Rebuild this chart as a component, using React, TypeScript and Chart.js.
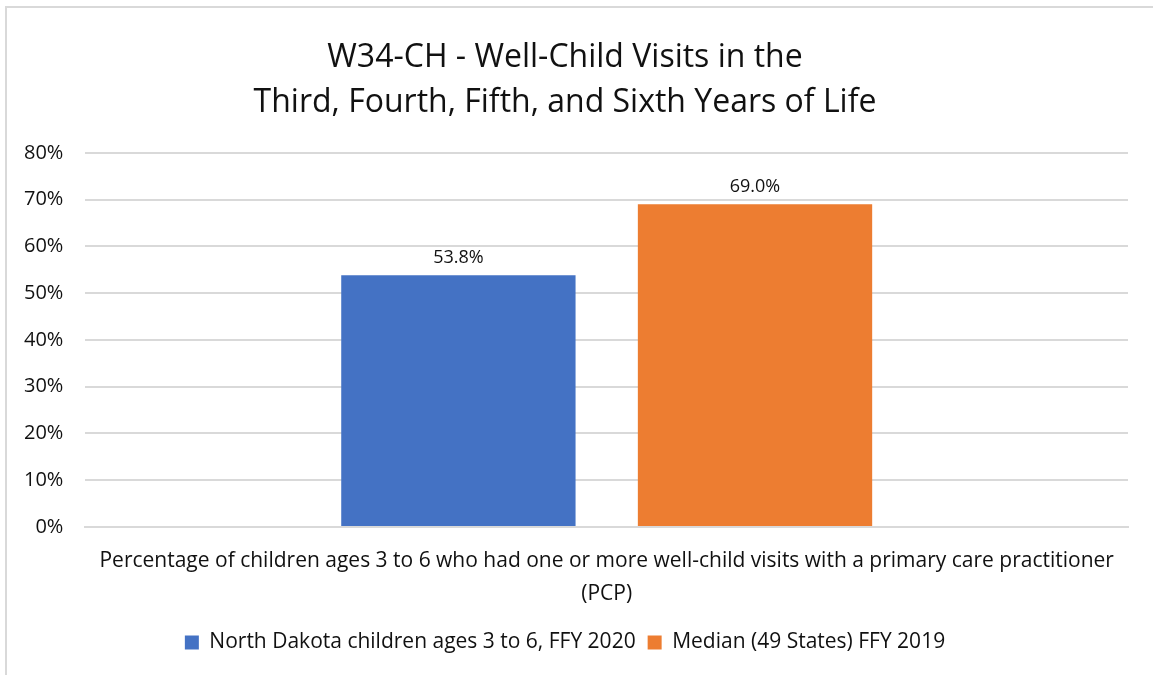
import React, { useEffect, useRef } from "react";
import { Chart, registerables } from "chart.js";

Chart.register(...registerables);

const categories: (string | string[])[] = [
  [
    "Percentage of children ages 3 to 6 who had one or more well-child visits with a primary care practitioner",
    "(PCP)",
  ],
];
const seriesNames = ["North Dakota children ages 3 to 6, FFY 2020", "Median (49 States) FFY 2019"];
const northDakota = [53.8];
const median = [69.0];
const seriesColors = ["#4472C4", "#ED7D31"];
const titleLines = ["W34-CH - Well-Child Visits in the", "Third, Fourth, Fifth, and Sixth Years of Life"];

const FONT = "'Open Sans', Lato, sans-serif";

const dataLabelPlugin = {
  id: "barValueLabels",
  afterDatasetsDraw(chart: any) {
    const ctx = chart.ctx;
    ctx.save();
    ctx.font = `18px ${FONT}`;
    ctx.fillStyle = "#111";
    ctx.textAlign = "center";
    ctx.textBaseline = "bottom";
    chart.data.datasets.forEach((ds: any, i: number) => {
      const meta = chart.getDatasetMeta(i);
      meta.data.forEach((el: any, j: number) => {
        const v = ds.data[j];
        ctx.fillText(v.toFixed(1) + "%", el.x, el.y - 8);
      });
    });
    ctx.restore();
  },
};

export default function App() {
  const ref = useRef<HTMLCanvasElement | null>(null);
  useEffect(() => {
    if (!ref.current) return;
    const chart = new Chart(ref.current, {
      type: "bar",
      data: {
        labels: categories,
        datasets: [
          { label: seriesNames[0], data: northDakota, backgroundColor: seriesColors[0] },
          { label: seriesNames[1], data: median, backgroundColor: seriesColors[1] },
        ],
      },
      options: {
        responsive: false,
        animation: false,
        maintainAspectRatio: false,
        layout: { padding: { left: 2, right: 25, top: 35, bottom: 12 } },
        datasets: { bar: { categoryPercentage: 0.569, barPercentage: 0.79 } },
        plugins: {
          title: {
            display: true,
            text: titleLines,
            font: { family: FONT, size: 32, weight: "normal" as any, lineHeight: 1.42 },
            color: "#111",
            padding: { top: 0, bottom: 27 },
          },
          legend: {
            position: "bottom",
            labels: {
              font: { family: FONT, size: 21 },
              color: "#111",
              boxWidth: 14,
              boxHeight: 14,
              padding: 12,
            },
          },
          tooltip: { enabled: false },
        },
        scales: {
          x: {
            grid: { display: false },
            border: { color: "#d9d9d9", width: 2 },
            ticks: {
              font: { family: FONT, size: 21, lineHeight: 1.55 },
              color: "#111",
              padding: 10,
            },
          },
          y: {
            min: 0,
            max: 80,
            grid: { color: "#d9d9d9", lineWidth: 2, drawTicks: false },
            border: { display: false },
            ticks: {
              stepSize: 10,
              font: { family: FONT, size: 20 },
              color: "#111",
              padding: 22,
              callback: (v: any) => v + "%",
            },
          },
        },
      },
      plugins: [dataLabelPlugin],
    });
    return () => chart.destroy();
  }, []);
  return (
    <div style={{ position: "absolute", left: 0, top: 0, width: 1153, height: 675, background: "#fff" }}>
      <div
        style={{
          position: "absolute",
          left: 5,
          top: 6,
          width: 1160,
          height: 680,
          border: "2px solid #d9d9d9",
          boxSizing: "border-box",
        }}
      />
      <canvas ref={ref} width={1153} height={675} style={{ position: "absolute", left: 0, top: 0 }} />
    </div>
  );
}
